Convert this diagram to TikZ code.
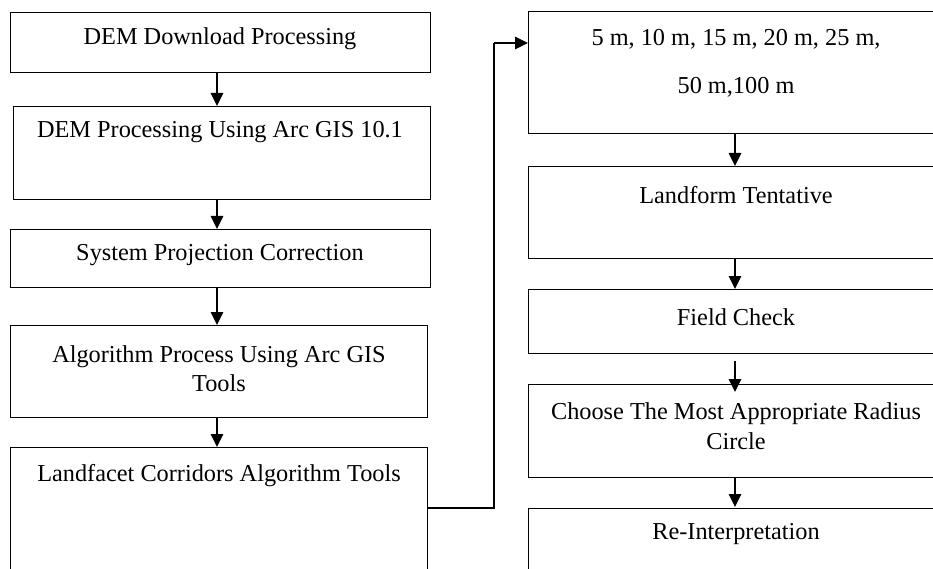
\documentclass[tikz,border=0pt]{standalone}
\usepackage{fontspec}
\setmainfont{Liberation Serif}
\usetikzlibrary{arrows.meta}
\tikzset{
  box/.style={draw=black, line width=1.4pt, rectangle, inner sep=0pt, anchor=north west},
  lbl/.style={inner sep=0pt, align=center, font=\fontsize{24.3}{29.5}\selectfont},
  flow/.style={line width=1.4pt, -{Triangle[width=12.5pt,length=13pt]}},
  link/.style={line width=1.4pt}
}
\begin{document}
\begin{tikzpicture}[x=1pt,y=-1pt]
\useasboundingbox (0,0) rectangle (933,569);
\clip (0,0) rectangle (933,569);
% left column
\node[box, minimum width=420pt, minimum height=60pt] (b1) at (10,12) {};
\node[box, minimum width=417pt, minimum height=93pt] (b2) at (13,106) {};
\node[box, minimum width=420pt, minimum height=58pt] (b3) at (10,229) {};
\node[box, minimum width=417pt, minimum height=92pt] (b4) at (10,325) {};
\node[box, minimum width=417pt, minimum height=160pt] (b5) at (10,447) {};
\node[lbl] (t1) at (220,38.5) {DEM Download Processing};
\node[lbl] (t2) at (220,132.5) {DEM Processing Using Arc GIS 10.1};
\node[lbl] (t3) at (220,255.5) {System Projection Correction};
\node[lbl] (t4) at (219,368.5) {Algorithm Process Using Arc GIS\\Tools};
\node[lbl] (t5) at (219,475.5) {Landfacet Corridors Algorithm Tools};
% right column
\node[box, minimum width=414pt, minimum height=122pt] (b6) at (528,11) {};
\node[box, minimum width=414pt, minimum height=92pt] (b7) at (528,166) {};
\node[box, minimum width=414pt, minimum height=64pt] (b8) at (528,289) {};
\node[box, minimum width=414pt, minimum height=93pt] (b9) at (528,384) {};
\node[box, minimum width=414pt, minimum height=120pt] (b10) at (528,508) {};
\node[lbl, font=\fontsize{24.3}{48}\selectfont] (t6) at (736,63) {5 m, 10 m, 15 m, 20 m, 25 m,\\50 m,100 m};
\node[lbl] (t7) at (736,195.5) {Landform Tentative};
\node[lbl] (t8) at (736,317.5) {Field Check};
\node[lbl] (t9) at (736,426) {Choose The Most Appropriate Radius\\Circle};
\node[lbl] (t10) at (736,534.5) {Re-Interpretation};
% connectors
\draw[flow] (b1.south -| 217,0) -- (b2.north -| 217,0);
\draw[flow] (b2.south -| 217,0) -- (b3.north -| 217,0);
\draw[flow] (b3.south -| 217,0) -- (b4.north -| 217,0);
\draw[flow] (b4.south -| 217,0) -- (b5.north -| 217,0);
\draw[flow] (b6.south -| 735,0) -- (b7.north -| 735,0);
\draw[flow] (b7.south -| 735,0) -- (b8.north -| 735,0);
\coordinate (c8s) at (735,361);
\coordinate (c9t) at (735,392);
\draw[flow] (c8s) -- (c9t);
\draw[flow] (b9.south -| 735,0) -- (735,507);
\coordinate (j1) at (494,508);
\coordinate (j2) at (494,43);
\draw[link] (b5.east |- j1) -- (j1) -- (j2);
\draw[flow] (j2) -- (b6.west |- j2);
\end{tikzpicture}
\end{document}
